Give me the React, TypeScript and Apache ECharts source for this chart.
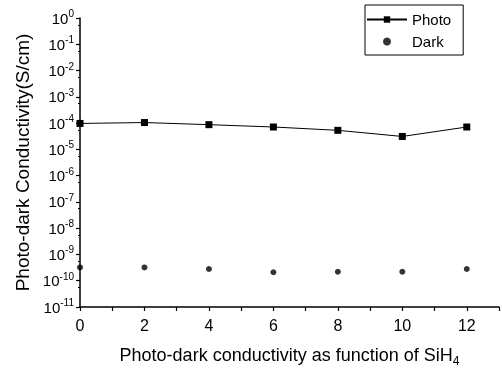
import React, { useEffect, useRef } from "react";
import * as echarts from "echarts";

const xValues = [0, 2, 4, 6, 8, 10, 12];
const photo = [9.7e-5, 1.05e-4, 8.7e-5, 7.1e-5, 5.3e-5, 3.1e-5, 7.1e-5];
const dark = [3.2e-10, 3.2e-10, 2.8e-10, 2.1e-10, 2.2e-10, 2.2e-10, 2.8e-10];
const xTickLabels = ["0", "", "2", "", "4", "", "6", "", "8", "", "10", "", "12", ""];
const seriesNames = ["Photo", "Dark"];

const FONT = "Liberation Sans, Arial, sans-serif";

export default function App() {
  const ref = useRef<HTMLDivElement>(null);
  useEffect(() => {
    if (!ref.current) return;
    const chart = echarts.init(ref.current, undefined, { renderer: "svg" });
    chart.setOption({
      animation: false,
      textStyle: { fontFamily: FONT, color: "#000" },
      grid: { left: 80, top: 18, right: 3, bottom: 58, containLabel: false },
      legend: {
        orient: "vertical",
        left: 365,
        top: 5,
        padding: [7, 12, 6, 1],
        itemGap: 7,
        itemWidth: 40,
        itemHeight: 8,
        borderColor: "#000",
        borderWidth: 1,
        textStyle: { fontFamily: FONT, fontSize: 15, color: "#000" },
        data: [seriesNames[0], seriesNames[1]],
      },
      xAxis: {
        type: "value",
        min: 0,
        max: 13,
        interval: 1,
        name: "Photo-dark conductivity as function of SiH{sub|4}",
        nameLocation: "middle",
        nameGap: 36,
        nameTextStyle: {
          fontFamily: FONT,
          fontSize: 18,
          color: "#000",
          rich: {
            sub: { fontSize: 12, verticalAlign: "bottom", padding: [12, 0, 0, 0], fontFamily: FONT, color: "#000" },
          },
        },
        axisLine: { lineStyle: { color: "#000", width: 1.5 } },
        axisTick: { length: 4, lineStyle: { color: "#000", width: 1.2 } },
        axisLabel: {
          color: "#000",
          fontSize: 16,
          fontFamily: FONT,
          margin: 10,
          formatter: (v: number) => xTickLabels[Math.round(v)] ?? "",
        },
        splitLine: { show: false },
      },
      yAxis: {
        type: "log",
        logBase: 10,
        min: 1e-11,
        max: 1,
        interval: 1,
        name: "Photo-dark Conductivity(S/cm)",
        nameLocation: "middle",
        nameGap: 47,
        nameTextStyle: { fontFamily: FONT, fontSize: 19, color: "#000" },
        axisLine: { show: true, lineStyle: { color: "#000", width: 1.5 } },
        axisTick: { show: true, length: 4, lineStyle: { color: "#000", width: 1.2 } },
        minorTick: { show: true, splitNumber: 2, length: 2, lineStyle: { color: "#000" } },
        axisLabel: {
          color: "#000",
          fontFamily: FONT,
          margin: 6,
          formatter: (v: number) => {
            const e = Math.round(Math.log10(v));
            return "{b|10}{s|" + e + "}";
          },
          rich: {
            b: { fontSize: 15, fontFamily: FONT, color: "#000" },
            s: { fontSize: 10, fontFamily: FONT, color: "#000", verticalAlign: "top", padding: [0, 0, 9, 0] },
          },
        },
        splitLine: { show: false },
      },
      series: [
        {
          name: seriesNames[0],
          type: "line",
          data: xValues.map((x, i) => [x, photo[i]]),
          symbol: "rect",
          symbolSize: 7,
          itemStyle: { color: "#000" },
          lineStyle: { color: "#000", width: 1 },
        },
        {
          name: seriesNames[1],
          type: "scatter",
          data: xValues.map((x, i) => [x, dark[i]]),
          symbol: "circle",
          symbolSize: 6,
          itemStyle: { color: "#000" },
        },
      ],
    });
    return () => chart.dispose();
  }, []);
  return <div ref={ref} style={{ position: "fixed", left: 0, top: 0, width: 502, height: 372 }} />;
}
